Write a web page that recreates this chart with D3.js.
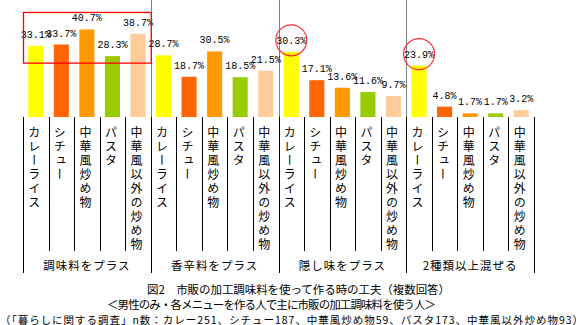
<!DOCTYPE html>
<html><head><meta charset="utf-8">
<script src="https://cdn.jsdelivr.net/npm/d3@7"></script>
<style>
html,body{margin:0;padding:0;background:#fff;}
svg{display:block;}
</style></head><body>
<svg id="chart" width="585" height="325"></svg>
<script>
const groups = ["調味料をプラス","香辛料をプラス","隠し味をプラス","2種類以上混ぜる"];
const menus = ["カレーライス","シチュー","中華風炒め物","パスタ","中華風以外の炒め物"];
const seasoningPlus = [33.1,33.7,40.7,28.3,38.7];
const spicePlus = [28.7,18.7,30.5,18.5,21.5];
const hiddenPlus = [30.3,17.1,13.6,11.6,9.7];
const mixTwoPlus = [23.9,4.8,1.7,1.7,3.2];
const seriesValues = [seasoningPlus, spicePlus, hiddenPlus, mixTwoPlus];
const menuColors = ["#FFFF00","#FF6600","#FF9900","#99CC00","#FFCC99"];
const titleText = "図2　市販の加工調味料を使って作る時の工夫（複数回答）";
const subtitleText = "＜男性のみ・各メニューを作る人で主に市販の加工調味料を使う人＞";
const noteText = "（「暮らしに関する調査」n数：カレー251、シチュー187、中華風炒め物59、パスタ173、中華風以外炒め物93）";
const circled = [[2,0],[3,0]];

const data = groups.flatMap((g,gi)=>menus.map((m,mi)=>({key:gi+"-"+mi,gi,mi,group:g,menu:m,value:seriesValues[gi][mi]})));

const svg = d3.select("#chart");
const jp = "'Noto Sans CJK JP','Noto Sans',sans-serif";

const x = d3.scaleBand().domain(data.map(d=>d.key)).range([23,534]).paddingInner(0.41).paddingOuter(0.205);
const gx = d3.scaleBand().domain(groups).range([23,534]);
const y = d3.scaleLinear().domain([0,54.4]).range([117,0]);
const bw = x.bandwidth();
const px = v => Math.round(v)+0.5;

// grey group separators above the baseline
svg.append("g").selectAll("line").data(groups.slice(1)).join("line")
  .attr("x1",g=>px(gx(g))).attr("x2",g=>px(gx(g)))
  .attr("y1",0).attr("y2",y(0))
  .attr("stroke","#808080").attr("stroke-width",1);

// bars
svg.append("g").selectAll("rect").data(data).join("rect")
  .attr("x",d=>x(d.key)).attr("width",bw)
  .attr("y",d=>y(d.value)).attr("height",d=>y(0)-y(d.value))
  .attr("fill",d=>menuColors[d.mi]);

// value labels
svg.append("g").selectAll("text").data(data).join("text")
  .attr("x",d=>x(d.key)+bw/2).attr("y",d=>y(d.value)-8)
  .attr("text-anchor","middle")
  .attr("font-family","'Liberation Mono','DejaVu Sans Mono',monospace")
  .attr("font-size","10px").attr("fill","#000")
  .text(d=>d.value.toFixed(1)+"%");

// separator lines below the baseline
const step = x.step();
const bounds = d3.range(data.length+1);
svg.append("g").selectAll("line").data(bounds).join("line")
  .attr("x1",i=>px(x.range()[0]+step*i)).attr("x2",i=>px(x.range()[0]+step*i))
  .attr("y1",y(0)).attr("y2",i=> i%menus.length===0 ? 273 : 251)
  .attr("stroke","#000").attr("stroke-width",1);

// vertical category labels
svg.append("g").selectAll("text").data(data).join("text")
  .attr("x",d=>x(d.key)+bw/2-1.5).attr("y",126)
  .attr("font-family",jp).attr("font-size","12px")
  .style("writing-mode","vertical-rl").style("text-orientation","upright")
  .style("letter-spacing","2px")
  .text(d=>d.menu);

// group labels
svg.append("g").selectAll("text").data(groups).join("text")
  .attr("x",g=>gx(g)+gx.bandwidth()/2).attr("y",270)
  .attr("text-anchor","middle")
  .attr("font-family",jp).attr("font-size","11.5px")
  .style("letter-spacing","1px")
  .text(g=>g);

// annotations
svg.append("rect")
  .attr("x",gx(groups[0])+0.5).attr("width",gx.bandwidth())
  .attr("y",y(d3.max(seasoningPlus))-17).attr("height",(y(d3.min(seasoningPlus))+7)-(y(d3.max(seasoningPlus))-17))
  .attr("fill","none").attr("stroke","#FF0000").attr("stroke-width",1.3);
svg.append("g").selectAll("circle").data(circled).join("circle")
  .attr("cx",c=>x(c[0]+"-"+c[1])+bw/2)
  .attr("cy",c=>y(seriesValues[c[0]][c[1]])-11.5)
  .attr("r",15.5)
  .attr("fill","none").attr("stroke","#FF3030").attr("stroke-width",1.2);

// titles
svg.append("text").attr("x",147).attr("y",294)
  .attr("font-family",jp).attr("font-size","11.5px")
  .attr("textLength",303).attr("lengthAdjust","spacing").text(titleText);
svg.append("text").attr("x",107).attr("y",309)
  .attr("font-family",jp).attr("font-size","11.5px")
  .attr("textLength",329).attr("lengthAdjust","spacing").text(subtitleText);
svg.append("text").attr("x",0).attr("y",323.5)
  .attr("font-family",jp).attr("font-size","10.5px")
  .attr("textLength",583).attr("lengthAdjust","spacing").text(noteText);
</script>
</body></html>
